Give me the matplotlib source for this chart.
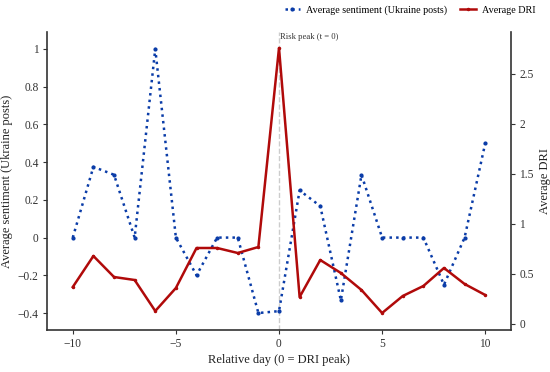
import numpy as np
from matplotlib import pyplot as plt

plt.rcParams['font.family'] = ['Liberation Serif', 'DejaVu Serif']

days = list(range(-10, 11))
sentiment = [0, 0.375, 0.333, 0, 1.0, 0, -0.2, 0, 0, -0.4, -0.39,
             0.25, 0.167, -0.333, 0.333, 0, 0, 0, -0.25, 0, 0.5]
dri = [0.37, 0.68, 0.47, 0.44, 0.13, 0.36, 0.76, 0.76, 0.71, 0.77, 2.76,
       0.27, 0.64, 0.51, 0.34, 0.11, 0.28, 0.38, 0.56, 0.40, 0.29]

blue = '#0a3ca8'
red = '#b00a0a'

fig = plt.figure(figsize=(5.5, 3.72), dpi=100)
ax = fig.add_axes([47/550, 42/372, (511-47)/550, (330-32)/372])
ax2 = ax.twinx()

l1, = ax.plot(days, sentiment, color=blue, linestyle=':', linewidth=1.8,
              marker='o', markersize=2, label='Average sentiment (Ukraine posts)')
l2, = ax2.plot(days, dri, color=red, linestyle='-', linewidth=1.8,
               marker='o', markersize=1.5, label='Average DRI')

ax.axvline(0, color='#cccccc', linestyle='--', linewidth=1, zorder=0)
ax.text(0.05, 1.065, 'Risk peak (t = 0)', fontsize=6.2, color='#333333',
        ha='left', va='center')

ax.set_xlim(-11.25, 11.25)
ax.set_ylim(-0.49, 1.09)
ax2.set_ylim(-0.06, 2.92)
ax.set_xticks([-10, -5, 0, 5, 10])
ax.set_yticks([-0.4, -0.2, 0, 0.2, 0.4, 0.6, 0.8, 1])
ax.set_yticklabels(['\u22120.4', '\u22120.2', '0', '0.2', '0.4', '0.6', '0.8', '1'])
ax.set_xticklabels(['\u221210', '\u22125', '0', '5', '10'])
ax2.set_yticks([0, 0.5, 1, 1.5, 2, 2.5])
ax2.set_yticklabels(['0', '0.5', '1', '1.5', '2', '2.5'])

for a in (ax, ax2):
    a.spines['top'].set_visible(False)
    for s in ('left', 'bottom', 'right'):
        a.spines[s].set_color('#333333')
        a.spines[s].set_linewidth(1.2)
    a.tick_params(labelsize=8.3, colors='#333333', length=3, width=0.8, pad=3)
ax.spines['right'].set_visible(False)
ax2.spines['left'].set_visible(False)
ax2.spines['bottom'].set_visible(False)

ax.set_xlabel('Relative day (0 = DRI peak)', fontsize=9, color='#222222', labelpad=3)
ax.set_ylabel('Average sentiment (Ukraine posts)', fontsize=9, color='#222222', labelpad=3)
ax2.set_ylabel('Average DRI', fontsize=9, color='#222222', labelpad=4)

fig.legend(handles=[l1, l2], loc='upper right', bbox_to_anchor=(0.99, 1.01),
           ncol=2, frameon=False, fontsize=7.3, handlelength=1.5,
           columnspacing=1.3, handletextpad=0.6)

fig.savefig('out.png', dpi=100)
